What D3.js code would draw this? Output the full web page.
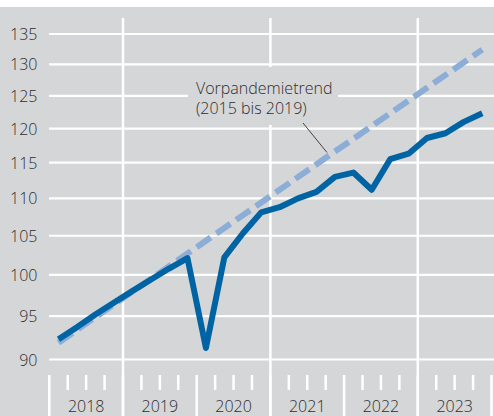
<!DOCTYPE html>
<html>
<head>
<meta charset="utf-8">
<script src="https://cdn.jsdelivr.net/npm/d3@7/dist/d3.min.js"></script>
<style>
  html, body { margin: 0; padding: 0; background: #ffffff; }
  svg { display: block; }
  text { font-family: "Open Sans", "DejaVu Sans", sans-serif; font-weight: 300; fill: #2e2e2e; }
</style>
</head>
<body>
<svg id="chart" width="494" height="416"></svg>
<script>
// ---- Data ----
const years = [2018, 2019, 2020, 2021, 2022, 2023];
const quarters = ["2018Q1","2018Q2","2018Q3","2018Q4","2019Q1","2019Q2","2019Q3","2019Q4",
                  "2020Q1","2020Q2","2020Q3","2020Q4","2021Q1","2021Q2","2021Q3","2021Q4",
                  "2022Q1","2022Q2","2022Q3","2022Q4","2023Q1","2023Q2","2023Q3","2023Q4"];
const values = [92.3, 93.7, 95.2, 96.6, 98.0, 99.4, 100.8, 102.1,
                91.3, 102.2, 105.3, 108.1, 108.8, 110.0, 110.9, 113.0,
                113.6, 111.2, 115.5, 116.3, 118.6, 119.3, 121.0, 122.3];
const trendQuarters = ["2018Q1", "2023Q4"];
const trendValues = [91.9, 132.4];
const yTicks = [90, 95, 100, 105, 110, 115, 120, 125, 130, 135];
const trendLabel = ["Vorpandemietrend", "(2015 bis 2019)"];

// ---- Layout ----
const W = 494, H = 416;
const svg = d3.select("#chart");
const bg = "#d5d6d8";

svg.append("rect").attr("x", 0).attr("y", 7).attr("width", W).attr("height", H - 7).attr("fill", bg);

const x = d3.scaleLinear().domain([2018, 2024]).range([49.3, 491.5]);
const y = d3.scaleLog().domain([90, 135]).range([359.5, 34]);

const qPos = q => +q.slice(0, 4) + (+q.slice(5) - 0.5) / 4;

// horizontal gridlines
svg.append("g").selectAll("line").data(yTicks).join("line")
  .attr("x1", 49).attr("x2", W)
  .attr("y1", d => y(d)).attr("y2", d => y(d))
  .attr("stroke", "#ffffff").attr("stroke-width", 2.2);

// vertical gridlines every two years
svg.append("g").selectAll("line").data([2019, 2021, 2023]).join("line")
  .attr("x1", d => x(d)).attr("x2", d => x(d))
  .attr("y1", 18).attr("y2", H)
  .attr("stroke", "#ffffff").attr("stroke-width", 2.5);

// x axis ticks
const yearBounds = d3.range(2018, 2025);
svg.append("g").selectAll("line").data(yearBounds).join("line")
  .attr("x1", d => x(d)).attr("x2", d => x(d))
  .attr("y1", 375).attr("y2", H)
  .attr("stroke", "#ffffff").attr("stroke-width", 2.5);
const qTicks = [];
years.forEach(yr => [0.25, 0.5, 0.75].forEach(f => qTicks.push(yr + f)));
svg.append("g").selectAll("line").data(qTicks).join("line")
  .attr("x1", d => x(d)).attr("x2", d => x(d))
  .attr("y1", 375).attr("y2", 390)
  .attr("stroke", "#ffffff").attr("stroke-width", 2.5);

// year labels
svg.append("g").selectAll("text").data(years).join("text")
  .attr("x", d => x(d + 0.5)).attr("y", 412)
  .attr("text-anchor", "middle").attr("font-size", 16)
  .text(d => d);

// y labels
svg.append("g").selectAll("text").data(yTicks).join("text")
  .attr("x", 37.5).attr("y", d => y(d) + 6)
  .attr("text-anchor", "end").attr("font-size", 16)
  .text(d => d);

// annotation box (covers grid)
svg.append("rect").attr("x", 188).attr("y", 67).attr("width", 150).attr("height", 58).attr("fill", bg);

// trend line
const line = d3.line().x(d => x(qPos(d.q))).y(d => y(d.v));
svg.append("path")
  .datum(trendQuarters.map((q, i) => ({q, v: trendValues[i]})))
  .attr("d", line)
  .attr("fill", "none").attr("stroke", "#8badd6").attr("stroke-width", 6)
  .attr("stroke-dasharray", "17,7");

// main series
svg.append("path")
  .datum(quarters.map((q, i) => ({q, v: values[i]})))
  .attr("d", line)
  .attr("fill", "none").attr("stroke", "#0063a3").attr("stroke-width", 6)
  .attr("stroke-linejoin", "round").attr("stroke-linecap", "butt");

// annotation text and leader
svg.append("line").attr("x1", 303).attr("y1", 123).attr("x2", 327).attr("y2", 152.5)
  .attr("stroke", "#333333").attr("stroke-width", 0.9);
svg.append("g").selectAll("text").data(trendLabel).join("text")
  .attr("x", 196).attr("y", (d, i) => 94 + i * 20)
  .attr("font-size", 16)
  .text(d => d);
</script>
</body>
</html>
